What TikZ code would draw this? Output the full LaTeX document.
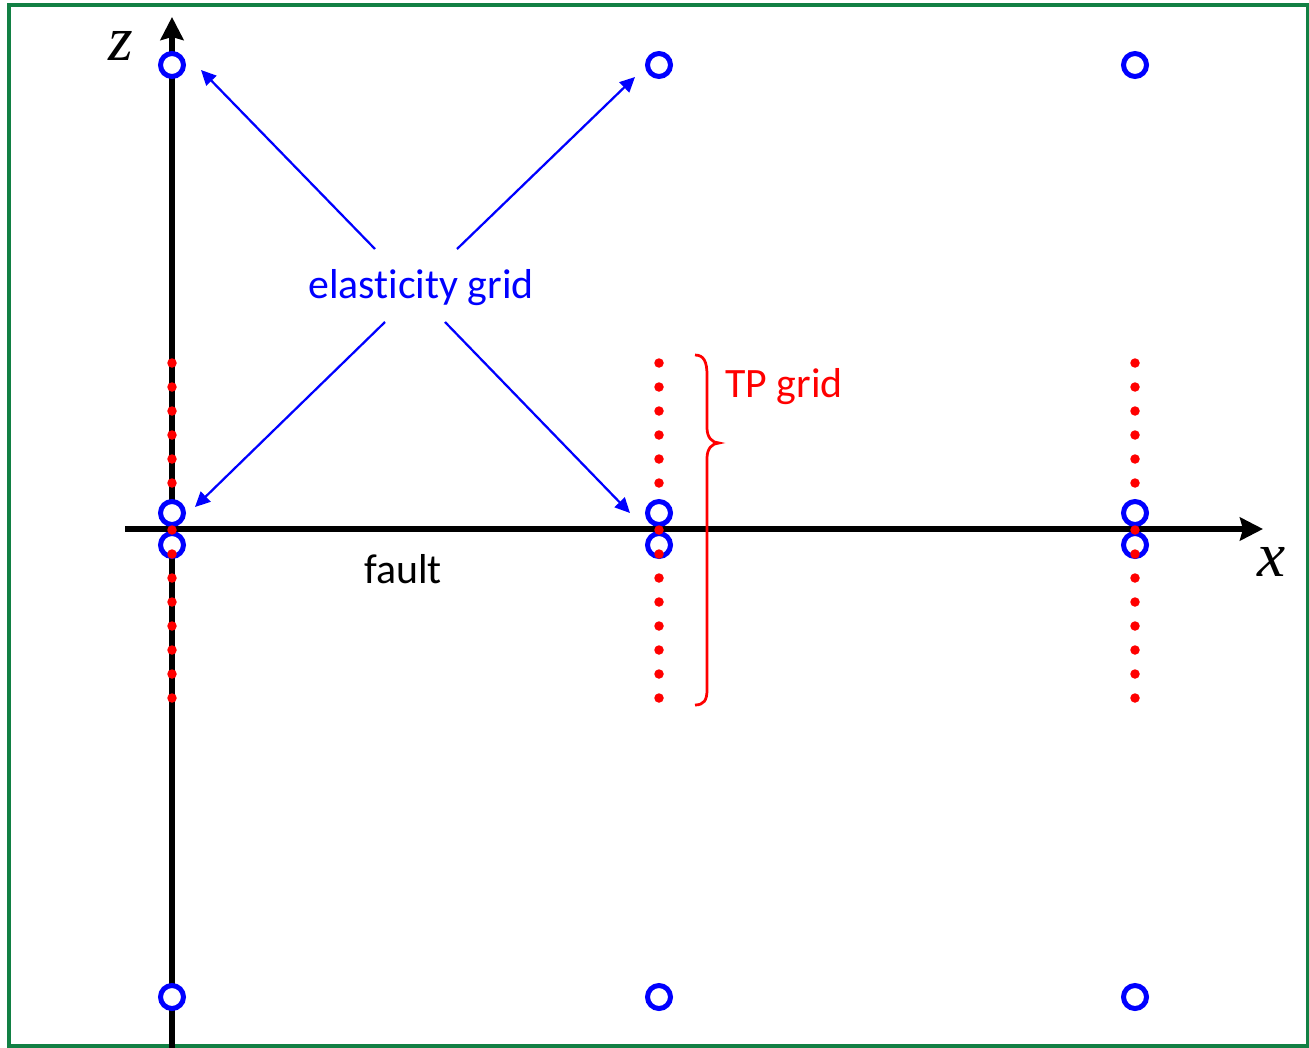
\documentclass[tikz,border=0pt]{standalone}
\usepackage{fontspec}
\setmainfont{Carlito}[Ligatures={NoCommon}]
\newfontfamily\axisfont{Liberation Serif}
\usepackage{xcolor}
\usepackage{tikz}
\usetikzlibrary{positioning,arrows.meta,calc}
\definecolor{framegreen}{RGB}{18,128,68}
\tikzset{
axis/.style={
line width=0.13cm,
-{Stealth[length=0.46cm,width=0.46cm,inset=0.06cm]}
},
egrid/.style={
circle,
draw=blue,
fill=white,
line width=0.1cm,
minimum size=0.46cm,
inner sep=0pt
},
tpdot/.style={
circle,
fill=red,
minimum size=0.19cm,
inner sep=0pt
},
pointer/.style={
-{Triangle[length=0.3cm,width=0.28cm]},
blue,
line width=0.045cm
},
lbl/.style={
font=\fontsize{23.8}{28}\selectfont,
inner sep=0pt
},
axlbl/.style={
font=\fontsize{36}{36}\selectfont\axisfont\itshape,
inner sep=0pt
}
}

\begin{document}
\begin{tikzpicture}[x=0.02cm,y=-0.02cm]
\useasboundingbox (0,0) rectangle (1309,1048);
\draw[framegreen,line width=0.08cm](9,5) rectangle (1308,1046);

% axes
\coordinate (zbot) at (172,1048);
\coordinate (ztop) at (172,17);
\coordinate (xleft) at (125,529);
\coordinate (xright) at (1263,529);
\draw[axis](zbot)--(ztop);
\draw[axis](xleft)--(xright);
\node[axlbl](zl) at (121,46){z};
\node[axlbl](xl) at (1272,562){x};

% elasticity grid
\foreach \c/\x in {a/172,b/659,c/1135}{
\node[egrid](\c1) at (\x,65){};
\node[egrid](\c2) at (\x,513){};
\node[egrid](\c3) at (\x,545){};
\node[egrid](\c4) at (\x,997){};
}

% TP grid
\foreach \x in {172,659,1135}{
\foreach \y in {363,387,411,435,459,483,530,554,578,602,626,650,674,698}
\node[tpdot] at (\x,\y){};
}

% labels
\node[lbl,text=blue](el) at (421,288){elasticity grid};
\node[lbl,text=red](tp) at (784,387){TP grid};
\node[lbl](fault) at (403,569){fault};

\coordinate (s1) at (375,249);
\coordinate (s2) at (457,249);
\coordinate (s3) at (385,322);
\coordinate (s4) at (445,322);
\coordinate (t1) at (201,70);
\coordinate (t2) at (635,77);
\coordinate (t3) at (195,507);
\coordinate (t4) at (630,513);
\foreach \i in {1,2,3,4}
\draw[pointer](s\i)--(t\i);

% brace
\draw[red,line width=0.055cm](695,355) .. controls (704,355) and (707,362) .. (707,375) -- (707,428)
.. controls (707,437) and (712,443) .. (719,443) .. controls (712,443) and (707,449) .. (707,458)
-- (707,690) .. controls (707,700) and (704,705) .. (695,705);
\end{tikzpicture}
\end{document}
